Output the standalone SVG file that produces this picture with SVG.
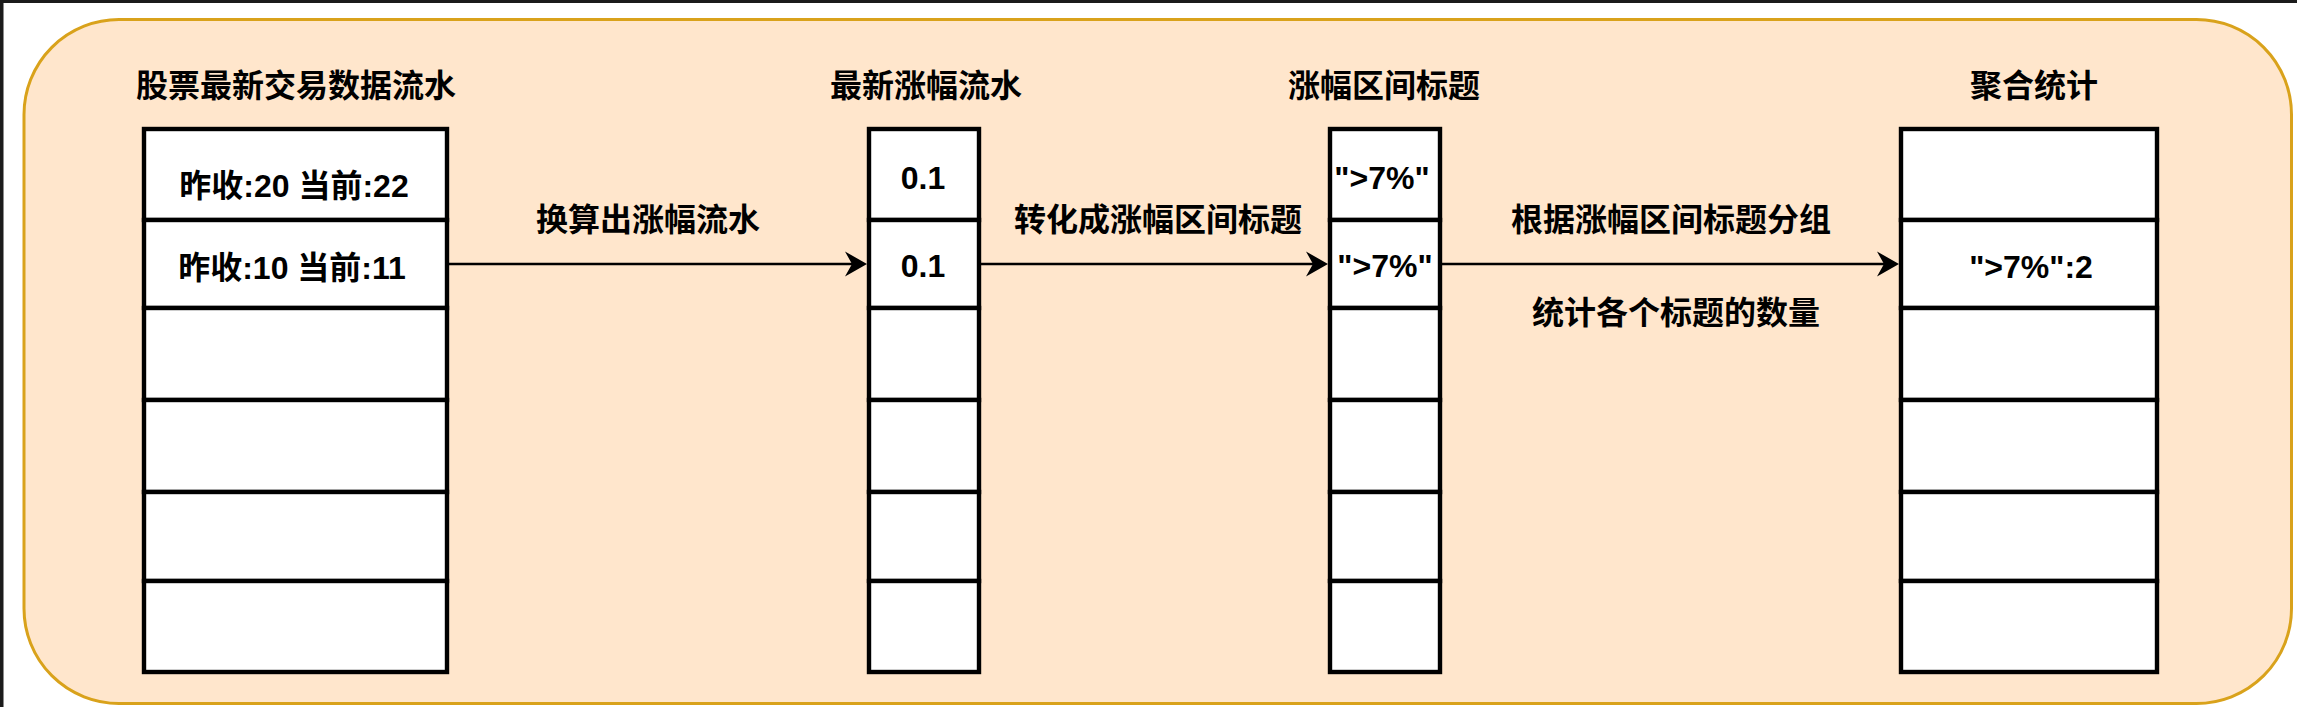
<svg xmlns="http://www.w3.org/2000/svg" width="2297" height="707" viewBox="0 0 2297 707">
  <style>
    .t { font-family: "Liberation Sans", "Noto Sans CJK SC", sans-serif; font-weight: bold; font-size: 32px; fill: #000; text-anchor: middle; }
    .cell { fill: #ffffff; stroke: #000000; stroke-width: 4.4; }
    .edge { fill: none; stroke: #000000; stroke-width: 2.7; }
  </style>
  <defs>
    <marker id="arrow" markerUnits="userSpaceOnUse" markerWidth="30" markerHeight="30" viewBox="-24 -14 26 28" refX="0" refY="0" orient="auto">
      <path d="M0,0 L-22,-12.5 L-15,0 L-22,12.5 Z" fill="#000"/>
    </marker>
  </defs>

  <rect x="0" y="0" width="2297" height="707" fill="#ffffff"/>
  <rect x="0" y="0" width="2297" height="3" fill="#1b1b1b"/>
  <rect x="0" y="0" width="3.5" height="707" fill="#1b1b1b"/>

  <g id="frame">
    <rect x="24" y="19.5" width="2267.5" height="684" rx="95" ry="95" fill="#ffe6cc" stroke="#d9a21b" stroke-width="3"/>
  </g>

  <g id="stock-flow">
    <text class="t" x="296" y="97">股票最新交易数据流水</text>
    <rect class="cell" x="144" y="129" width="303" height="91"/>
    <rect class="cell" x="144" y="220" width="303" height="88"/>
    <rect class="cell" x="144" y="308" width="303" height="92"/>
    <rect class="cell" x="144" y="400" width="303" height="92"/>
    <rect class="cell" x="144" y="492" width="303" height="89"/>
    <rect class="cell" x="144" y="581" width="303" height="91"/>
    <text class="t" x="294" y="197">昨收:20 当前:22</text>
    <text class="t" x="292" y="279">昨收:10 当前:11</text>
  </g>

  <g id="change-flow">
    <text class="t" x="926" y="97">最新涨幅流水</text>
    <rect class="cell" x="869" y="129" width="110" height="91"/>
    <rect class="cell" x="869" y="220" width="110" height="88"/>
    <rect class="cell" x="869" y="308" width="110" height="92"/>
    <rect class="cell" x="869" y="400" width="110" height="92"/>
    <rect class="cell" x="869" y="492" width="110" height="89"/>
    <rect class="cell" x="869" y="581" width="110" height="91"/>
    <text class="t" x="923" y="189">0.1</text>
    <text class="t" x="923" y="277">0.1</text>
  </g>

  <g id="range-title">
    <text class="t" x="1384" y="97">涨幅区间标题</text>
    <rect class="cell" x="1330" y="129" width="110" height="91"/>
    <rect class="cell" x="1330" y="220" width="110" height="88"/>
    <rect class="cell" x="1330" y="308" width="110" height="92"/>
    <rect class="cell" x="1330" y="400" width="110" height="92"/>
    <rect class="cell" x="1330" y="492" width="110" height="89"/>
    <rect class="cell" x="1330" y="581" width="110" height="91"/>
    <text class="t" x="1382" y="189">"&gt;7%"</text>
    <text class="t" x="1385" y="277">"&gt;7%"</text>
  </g>

  <g id="agg-stats">
    <text class="t" x="2034" y="97">聚合统计</text>
    <rect class="cell" x="1901" y="129" width="256" height="91"/>
    <rect class="cell" x="1901" y="220" width="256" height="88"/>
    <rect class="cell" x="1901" y="308" width="256" height="92"/>
    <rect class="cell" x="1901" y="400" width="256" height="92"/>
    <rect class="cell" x="1901" y="492" width="256" height="89"/>
    <rect class="cell" x="1901" y="581" width="256" height="91"/>
    <text class="t" x="2031" y="278">"&gt;7%":2</text>
  </g>

  <g id="connectors">
    <line class="edge" x1="447" y1="264" x2="860" y2="264"/>
    <path d="M867,264 L845,251.5 L852,264 L845,276.5 Z" fill="#000"/>
    <line class="edge" x1="981" y1="264" x2="1321" y2="264"/>
    <path d="M1328,264 L1306,251.5 L1313,264 L1306,276.5 Z" fill="#000"/>
    <line class="edge" x1="1442" y1="264" x2="1892" y2="264"/>
    <path d="M1899,264 L1877,251.5 L1884,264 L1877,276.5 Z" fill="#000"/>
    <text class="t" x="648" y="231">换算出涨幅流水</text>
    <text class="t" x="1158" y="231">转化成涨幅区间标题</text>
    <text class="t" x="1671" y="231">根据涨幅区间标题分组</text>
    <text class="t" x="1676" y="324">统计各个标题的数量</text>
  </g>
</svg>
